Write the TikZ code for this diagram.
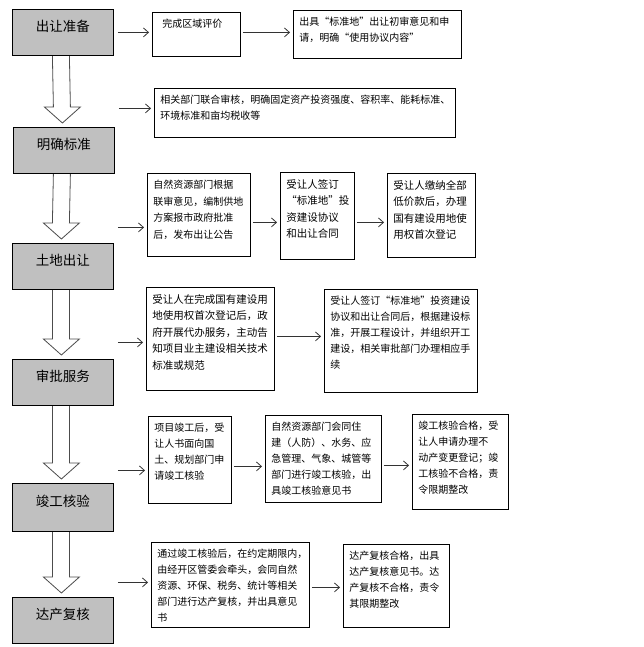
\documentclass[tikz,border=0pt]{standalone}
\usepackage{fontspec}
\setmainfont{Noto Sans CJK SC}
\usetikzlibrary{arrows.meta,calc,backgrounds}
\definecolor{stagegray}{RGB}{192,192,192}
% text cell of a given outer width/height, text set from the top
\newcommand{\boxtxt}[3]{\parbox[c][\dimexpr#2pt-14pt\relax][t]{\dimexpr#1pt-12pt\relax}{\raggedright #3}}

\begin{document}
\begin{tikzpicture}[x=1pt, y=-1pt,
    stage/.style={draw, line width=0.8pt, fill=stagegray, anchor=north west,
                  minimum width=101pt, minimum height=46pt, inner sep=0pt,
                  text height=10pt, text depth=12pt,
                  font=\fontsize{13.5}{16}\selectfont},
    cell/.style={draw, line width=0.8pt, fill=white, anchor=north west,
                 inner xsep=6pt, inner ysep=7pt,
                 font=\fontsize{10}{16}\selectfont},
    big/.style={font=\fontsize{10.5}{16.5}\selectfont},
    arr/.style={-{Straight Barb[length=5pt,width=9pt]}, line width=0.8pt,
                black!80, shorten <=2pt, shorten >=3pt},
    blk/.style={draw=black!70, line width=0.8pt, fill=white}
  ]
    \useasboundingbox (0,0) rectangle (644,647);

    % stages
    \node[stage] (g1) at (12,9)   {出让准备};
    \node[stage] (g2) at (13,127) {明确标准};
    \node[stage] (g3) at (12,243) {土地出让};
    \node[stage] (g4) at (12,359) {审批服务};
    \node[stage, minimum height=48pt] (g5) at (12,483) {竣工核验};
    \node[stage] (g6) at (12,597) {达产复核};

    % row 1
    \node[cell, inner xsep=10pt] (b11) at (152,12) {\boxtxt{80}{44}{完成区域评价}};
    \node[cell] (b12) at (293,10) {\boxtxt{168}{48}{出具“标准地”出让初审意见和申\\请，明确“使用协议内容”}};
    % row 2
    \node[cell] (b21) at (154,88) {\boxtxt{301}{49}{相关部门联合审核，明确固定资产投资强度、容积率、能耗标准、\\环境标准和亩均税收等}};
    % row 3
    \node[cell, font=\fontsize{10}{16.5}\selectfont] (b31) at (147,173) {\boxtxt{103}{83}{自然资源部门根据\\联审意见，编制供地\\方案报市政府批准\\后，发布出让公告}};
    \node[cell, big] (b32) at (280,172) {\boxtxt{74}{87}{受让人签订\\“标准地”投\\资建设协议\\和出让合同}};
    \node[cell, big] (b33) at (387,173) {\boxtxt{88}{84}{受让人缴纳全部\\低价款后，办理\\国有建设用地使\\用权首次登记}};
    % row 4
    \node[cell, big] (b41) at (146,287) {\boxtxt{128}{103}{受让人在完成国有建设用\\地使用权首次登记后，政\\府开展代办服务，主动告\\知项目业主建设相关技术\\标准或规范}};
    \node[cell] (b42) at (324,289) {\boxtxt{153}{103}{受让人签订“标准地”投资建设\\协议和出让合同后，根据建设标\\准，开展工程设计，并组织开工\\建设，相关审批部门办理相应手\\续}};
    % row 5
    \node[cell] (b51) at (148,416) {\boxtxt{83}{87}{项目竣工后，受\\让人书面向国\\土、规划部门申\\请竣工核验}};
    \node[cell] (b52) at (265,415) {\boxtxt{116}{87}{自然资源部门会同住\\建（人防）、水务、应\\急管理、气象、城管等\\部门进行竣工核验，出\\具竣工核验意见书}};
    \node[cell] (b53) at (412,414) {\boxtxt{96}{95}{竣工核验合格，受\\让人申请办理不\\动产变更登记；竣\\工核验不合格，责\\令限期整改}};
    % row 6
    \node[cell] (b61) at (151,542) {\boxtxt{158}{85}{通过竣工核验后，在约定期限内，\\由经开区管委会牵头，会同自然\\资源、环保、税务、统计等相关\\部门进行达产复核，并出具意见\\书}};
    \node[cell] (b62) at (343,544) {\boxtxt{106}{83}{达产复核合格，出具\\达产复核意见书。达\\产复核不合格，责令\\其限期整改}};

    % hollow arrows between stages
    \begin{scope}[on background layer]
    \foreach \a/\b in {g1/g2, g2/g3, g3/g4, g4/g5, g5/g6}
      \draw[blk] ($(\a.south)+(-10.5,0)$) -- ($(\b.north)+(-10.5,-20)$)
        -- ($(\b.north)+(-19.5,-20)$) -- ($(\b.north)+(-1.5,-4)$)
        -- ($(\b.north)+(16.5,-20)$) -- ($(\b.north)+(6.5,-20)$)
        -- ($(\a.south)+(6.5,0)$);
    \end{scope}

    % stage -> first cell
    \foreach \g/\b/\s in {g1/b11/2, g2/b21/4.5, g3/b31/-12.5, g4/b41/-3.5, g5/b51/-10.5, g6/b61/2.5}
      \draw[arr, shorten <=4pt] ([yshift=\s pt]\b.west -| \g.east) -- ([yshift=\s pt]\b.west);
    % cell -> cell
    \foreach \a/\b/\s in {b11/b12/2, b31/b32/-7.5, b32/b33/-6.5, b41/b42/2.5, b51/b52/-6.5, b52/b53/-6.5, b61/b62/-2.5}
      \draw[arr] ([yshift=\s pt]\a.east) -- ([yshift=\s pt]\a.east -| \b.west);
\end{tikzpicture}
\end{document}
